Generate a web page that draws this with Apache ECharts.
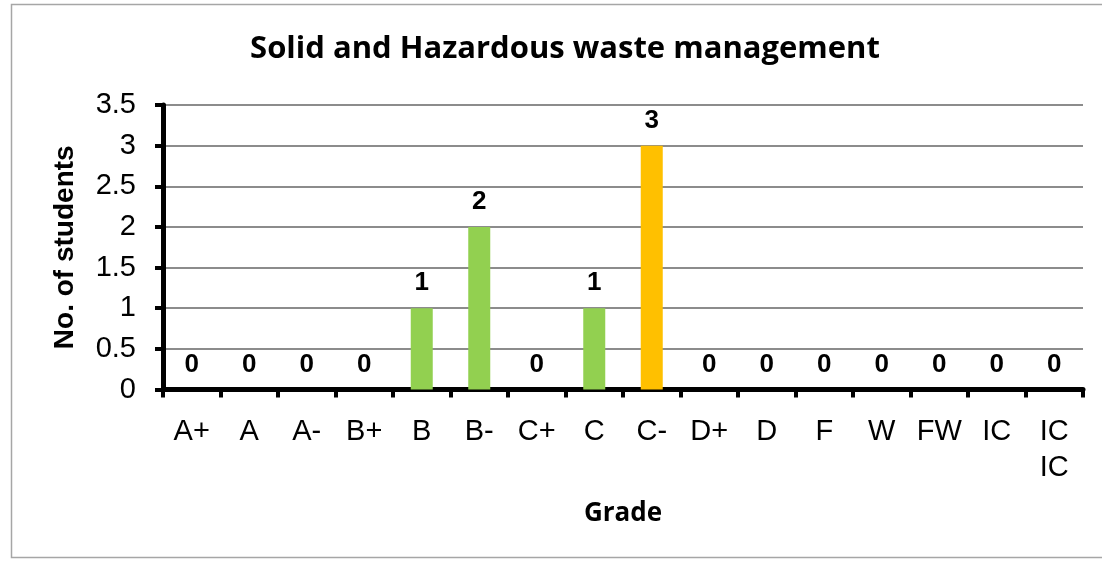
<!DOCTYPE html>
<html>
<head>
<meta charset="utf-8">
<script src="https://cdn.jsdelivr.net/npm/echarts@6/dist/echarts.min.js"></script>
<style>html,body{margin:0;padding:0;background:#fff}#c{width:1102px;height:561px}</style>
</head>
<body>
<div id="c"></div>
<script>
const categories = ['A+','A','A-','B+','B','B-','C+','C','C-','D+','D','F','W','FW','IC','IC\nIC'];
const students = [0,0,0,0,1,2,0,1,3,0,0,0,0,0,0,0];
const barColors = ['#92D050','#92D050','#92D050','#92D050','#92D050','#92D050','#92D050','#92D050','#FFC000','#92D050','#92D050','#92D050','#92D050','#92D050','#92D050','#92D050'];
const yTicks = [0,0.5,1,1.5,2,2.5,3,3.5];

const chart = echarts.init(document.getElementById('c'));
chart.setOption({
  animation: false,
  backgroundColor: '#fff',
  graphic: [{
    type: 'rect', shape: {x: 11.5, y: 4.5, width: 1100, height: 553},
    style: {fill: 'none', stroke: '#a6a6a6', lineWidth: 1.5}, z: -1
  }],
  title: {
    text: 'Solid and Hazardous waste management',
    left: 560, textAlign: 'center', top: 29,
    textStyle: {fontFamily: 'Open Sans', fontWeight: 'bold', fontSize: 31, color: '#000'}
  },
  grid: {left: 163, right: 19, top: 105, bottom: 171.5, containLabel: false},
  xAxis: {
    type: 'category', data: categories,
    name: 'Grade', nameLocation: 'middle', nameGap: 111,
    nameTextStyle: {fontFamily: 'Open Sans', fontWeight: 'bold', fontSize: 26, color: '#000'},
    axisLine: {lineStyle: {color: '#000', width: 5}},
    axisTick: {show: true, length: 8, lineStyle: {color: '#000', width: 4}},
    axisLabel: {fontFamily: 'Liberation Sans', fontSize: 29, color: '#000', margin: 24, lineHeight: 36, interval: 0}
  },
  yAxis: {
    type: 'value', min: 0, max: 3.5, interval: 0.5,
    name: 'No. of students', nameLocation: 'middle', nameGap: 84,
    nameTextStyle: {fontFamily: 'Liberation Sans', fontWeight: 'bold', fontSize: 28, color: '#000'},
    axisLine: {show: true, lineStyle: {color: '#000', width: 5}},
    axisTick: {show: true, length: 8, lineStyle: {color: '#000', width: 4}},
    axisLabel: {fontFamily: 'Liberation Sans', fontSize: 29, color: '#000', margin: 27,
      formatter: v => String(yTicks.find(t => t === v) ?? v)},
    splitLine: {lineStyle: {color: '#8c8c8c', width: 2}}
  },
  series: [{
    type: 'bar',
    data: students.map((v, i) => ({value: v, itemStyle: {color: barColors[i]}})),
    barWidth: 22,
    label: {show: true, position: 'top', distance: 12, fontFamily: 'Liberation Sans', fontWeight: 'bold', fontSize: 26, color: '#000'}
  }]
});
</script>
</body>
</html>
